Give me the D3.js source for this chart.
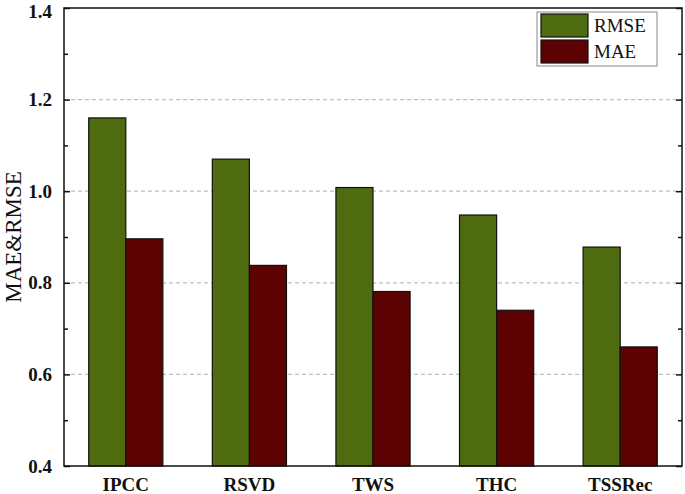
<!DOCTYPE html>
<html><head><meta charset="utf-8">
<script src="https://cdn.jsdelivr.net/npm/d3@7"></script>
<style>body{margin:0;background:#fff}svg{display:block}</style>
</head><body>
<script>
const categories = ["IPCC","RSVD","TWS","THC","TSSRec"];
const rmse = [1.16, 1.07, 1.008, 0.948, 0.878];
const mae = [0.896, 0.838, 0.781, 0.74, 0.66];
const seriesNames = ["RMSE","MAE"];
const colors = ["#4e6b10","#5c0202"];
const majorTicks = [0.4,0.6,0.8,1.0,1.2,1.4];
const minorTicks = [0.5,0.7,0.9,1.1,1.3];
const gridTicks = [0.6,0.8,1.0,1.2];

const W=685,H=494, L=64,R=682,T=8,B=466;
const svg=d3.select("body").append("svg").attr("width",W).attr("height",H);
const x=d3.scaleBand().domain(categories).range([L,R]).paddingInner(0.4).paddingOuter(0.2);
const xs=d3.scaleBand().domain(seriesNames).range([0,x.bandwidth()]);
const y=d3.scaleLinear().domain([0.4,1.4]).range([B,T]);
const font="'Liberation Serif','Times New Roman',serif";

svg.append("g").selectAll("line").data(gridTicks).join("line")
 .attr("x1",L).attr("x2",R).attr("y1",d=>y(d)).attr("y2",d=>y(d))
 .attr("stroke","#b8c4c4").attr("stroke-width",1.2).attr("stroke-dasharray","4,3");

const data=[rmse,mae];
seriesNames.forEach((s,i)=>{
 svg.append("g").selectAll("rect").data(categories).join("rect")
  .attr("x",c=>x(c)+xs(s)).attr("width",xs.bandwidth())
  .attr("y",(c,j)=>y(data[i][j])).attr("height",(c,j)=>B-y(data[i][j]))
  .attr("fill",colors[i]).attr("stroke","#111").attr("stroke-width",1.2);
});

// frame
svg.append("rect").attr("x",L).attr("y",T).attr("width",R-L).attr("height",B-T)
 .attr("fill","none").attr("stroke","#111").attr("stroke-width",1.5);

// ticks (inward) left and right
const lAxis=d3.axisLeft(y).tickValues(majorTicks).tickSize(-6).tickPadding(12).tickFormat(d3.format(".1f"));
const gl=svg.append("g").attr("transform",`translate(${L},0)`).call(lAxis);
gl.select(".domain").remove();
gl.selectAll("line").attr("stroke","#111").attr("stroke-width",1.5);
gl.selectAll("text").attr("font-family",font).attr("font-size",19).attr("font-weight","bold").attr("fill","#111")
  .attr("dy",d=>d===1.4?"0.5em":"0.32em");
const lMinor=d3.axisLeft(y).tickValues(minorTicks).tickSize(-4).tickFormat("");
const gm=svg.append("g").attr("transform",`translate(${L},0)`).call(lMinor);
gm.select(".domain").remove(); gm.selectAll("line").attr("stroke","#111").attr("stroke-width",1.5);
const rAxis=d3.axisRight(y).tickValues(majorTicks).tickSize(-6).tickFormat("");
const gr=svg.append("g").attr("transform",`translate(${R},0)`).call(rAxis);
gr.select(".domain").remove(); gr.selectAll("line").attr("stroke","#111").attr("stroke-width",1.5);
const rMinor=d3.axisRight(y).tickValues(minorTicks).tickSize(-4).tickFormat("");
const gr2=svg.append("g").attr("transform",`translate(${R},0)`).call(rMinor);
gr2.select(".domain").remove(); gr2.selectAll("line").attr("stroke","#111").attr("stroke-width",1.5);

// x axis labels
const xAxis=d3.axisBottom(x).tickSize(0).tickPadding(12);
const gx=svg.append("g").attr("transform",`translate(0,${B})`).call(xAxis);
gx.select(".domain").remove();
gx.selectAll("text").attr("font-family",font).attr("font-size",19).attr("font-weight","bold").attr("fill","#111");

// y label
svg.append("text").attr("transform",`translate(21,${(T+B)/2}) rotate(-90)`)
 .attr("text-anchor","middle").attr("font-family",font).attr("font-size",23).attr("fill","#111").text("MAE&RMSE");

// legend
const lg=svg.append("g");
lg.append("rect").attr("x",537).attr("y",12).attr("width",120).attr("height",54)
 .attr("fill","#fff").attr("stroke","#888").attr("stroke-width",1);
seriesNames.forEach((s,i)=>{
 lg.append("rect").attr("x",541).attr("y",14+i*26).attr("width",47).attr("height",23)
  .attr("fill",colors[i]).attr("stroke","#111").attr("stroke-width",1.2);
 lg.append("text").attr("x",594).attr("y",32+i*26).attr("font-family",font).attr("font-size",19)
  .attr("fill","#111").text(s);
});
</script>
</body></html>
